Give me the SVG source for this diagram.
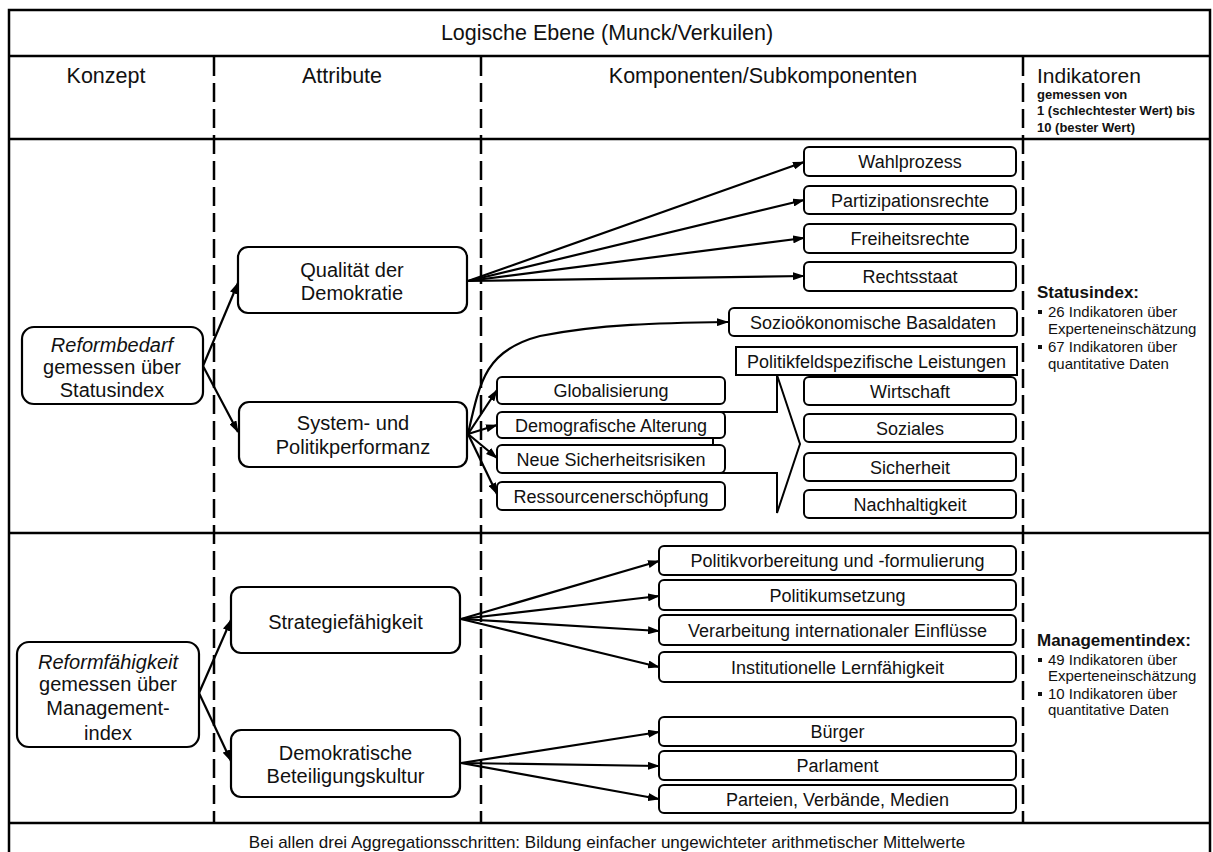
<svg xmlns="http://www.w3.org/2000/svg" width="1213" height="852" viewBox="0 0 1213 852">
<style>
text{font-family:"Liberation Sans",Arial,sans-serif;fill:#111}
.frame{fill:none;stroke:#000;stroke-width:2.5}
.hl{stroke:#000;stroke-width:2.5}
.dash{stroke:#000;stroke-width:2.5;stroke-dasharray:19 7;fill:none}
.box{fill:#fff;stroke:#000;stroke-width:2}
.big{fill:#fff;stroke:#000;stroke-width:2.2}
.c{stroke:#000;stroke-width:2.2;fill:none;marker-end:url(#ah)}
.t18{font-size:18px;text-anchor:middle}
.t20{font-size:20px;text-anchor:middle}
.hd{font-size:21.5px;text-anchor:middle}
.side{font-size:15px}
.sideh{font-size:17px;font-weight:bold}
.ind{font-size:13px;font-weight:bold}
</style>
<defs>
<marker id="ah" markerUnits="userSpaceOnUse" markerWidth="12" markerHeight="8" refX="11" refY="4" orient="auto"><path d="M0,0 L12,4 L0,8 z" fill="#000"/></marker>
</defs>
<rect width="1213" height="852" fill="#fff"/>

<g id="frame">
<rect class="frame" x="9" y="10" width="1201" height="880"/>
<line class="hl" x1="9" y1="56" x2="1210" y2="56"/>
<line class="hl" x1="9" y1="139" x2="1210" y2="139"/>
<line class="hl" x1="9" y1="533" x2="1210" y2="533"/>
<line class="hl" x1="9" y1="823" x2="1210" y2="823"/>
<line class="dash" x1="214" y1="57" x2="214" y2="822"/>
<line class="dash" x1="481" y1="57" x2="481" y2="822"/>
<line class="dash" x1="1023" y1="57" x2="1023" y2="822"/>
</g>

<g id="header">
<text class="hd" x="607" y="40">Logische Ebene (Munck/Verkuilen)</text>
<text class="hd" x="106" y="82.5">Konzept</text>
<text class="hd" x="342" y="82.5">Attribute</text>
<text class="hd" x="763" y="82.5">Komponenten/Subkomponenten</text>
<text x="1037" y="83" style="font-size:21px">Indikatoren</text>
<text class="ind" x="1037" y="98.5">gemessen von</text>
<text class="ind" x="1037" y="114.5">1 (schlechtester Wert) bis</text>
<text class="ind" x="1037" y="131.5">10 (bester Wert)</text>
</g>

<g id="block-arrow">
<polygon class="box" points="713,412 777,412 777,375 800,444 777,513 777,473 713,473"/>
</g>

<g id="connectors">
<line class="c" x1="203" y1="366" x2="238" y2="283"/>
<line class="c" x1="203" y1="366" x2="238" y2="432"/>
<line class="c" x1="468" y1="281" x2="804" y2="162"/>
<line class="c" x1="468" y1="281" x2="804" y2="200"/>
<line class="c" x1="468" y1="281" x2="804" y2="238"/>
<line class="c" x1="468" y1="281" x2="804" y2="276"/>
<line class="c" x1="468" y1="434" x2="497" y2="390"/>
<line class="c" x1="468" y1="434" x2="497" y2="425"/>
<line class="c" x1="468" y1="434" x2="497" y2="458"/>
<line class="c" x1="468" y1="434" x2="497" y2="494"/>
<path class="c" d="M468,434 C480,380 486,350 540,336 C600,324 660,323 728,322"/>
<line class="c" x1="199" y1="693" x2="231" y2="620"/>
<line class="c" x1="199" y1="693" x2="231" y2="761"/>
<line class="c" x1="461" y1="619" x2="659" y2="561"/>
<line class="c" x1="461" y1="619" x2="659" y2="596"/>
<line class="c" x1="461" y1="619" x2="659" y2="631"/>
<line class="c" x1="461" y1="619" x2="659" y2="667"/>
<line class="c" x1="461" y1="763" x2="659" y2="732"/>
<line class="c" x1="461" y1="763" x2="659" y2="766"/>
<line class="c" x1="461" y1="763" x2="659" y2="799"/>
</g>

<g id="reformbedarf"><rect class="big" x="22" y="327" width="181" height="77" rx="12"/>
<text class="t20" x="112" y="352" font-style="italic">Reformbedarf</text>
<text class="t20" x="112" y="374">gemessen über</text>
<text class="t20" x="112" y="397">Statusindex</text></g>

<g id="qualitaet"><rect class="big" x="238" y="247" width="229" height="66" rx="10"/>
<text class="t20" x="352" y="277">Qualität der</text>
<text class="t20" x="352" y="300">Demokratie</text></g>

<g id="system"><rect class="big" x="239" y="402" width="228" height="65" rx="10"/>
<text class="t20" x="353" y="430">System- und</text>
<text class="t20" x="353" y="454">Politikperformanz</text></g>

<g id="wahlprozess"><rect class="box" x="804" y="147" width="212" height="29" rx="5"/><text class="t18" x="910" y="168">Wahlprozess</text></g>
<g id="partizipation"><rect class="box" x="804" y="186" width="212" height="28" rx="5"/><text class="t18" x="910" y="206.5">Partizipationsrechte</text></g>
<g id="freiheit"><rect class="box" x="804" y="224" width="212" height="29" rx="5"/><text class="t18" x="910" y="245">Freiheitsrechte</text></g>
<g id="rechtsstaat"><rect class="box" x="804" y="262" width="212" height="29" rx="5"/><text class="t18" x="910" y="283">Rechtsstaat</text></g>
<g id="sozio"><rect class="box" x="729" y="308" width="288" height="28" rx="5"/><text class="t18" x="873" y="328.5">Sozioökonomische Basaldaten</text></g>
<g id="politikfeld"><rect class="box" x="736" y="347" width="281" height="28"/><text class="t18" x="876.5" y="367.5">Politikfeldspezifische Leistungen</text></g>
<g id="wirtschaft"><rect class="box" x="804" y="377" width="212" height="28" rx="5"/><text class="t18" x="910" y="397.5">Wirtschaft</text></g>
<g id="soziales"><rect class="box" x="804" y="414" width="212" height="28" rx="5"/><text class="t18" x="910" y="434.5">Soziales</text></g>
<g id="sicherheit"><rect class="box" x="804" y="453" width="212" height="28" rx="5"/><text class="t18" x="910" y="473.5">Sicherheit</text></g>
<g id="nachhaltigkeit"><rect class="box" x="804" y="490" width="212" height="28" rx="5"/><text class="t18" x="910" y="510.5">Nachhaltigkeit</text></g>
<g id="globalisierung"><rect class="box" x="497" y="377" width="228" height="27" rx="5"/><text class="t18" x="611" y="397">Globalisierung</text></g>
<g id="demografie"><rect class="box" x="497" y="412" width="228" height="26" rx="5"/><text class="t18" x="611" y="431.5">Demografische Alterung</text></g>
<g id="risiken"><rect class="box" x="497" y="445" width="228" height="28" rx="5"/><text class="t18" x="611" y="465.5">Neue Sicherheitsrisiken</text></g>
<g id="ressourcen"><rect class="box" x="497" y="482" width="228" height="28" rx="5"/><text class="t18" x="611" y="502.5">Ressourcenerschöpfung</text></g>

<g id="statusindex">
<text class="sideh" x="1037" y="298">Statusindex:</text>
<rect x="1038" y="310" width="4" height="4" fill="#111"/>
<text class="side" x="1048" y="317">26 Indikatoren über</text>
<text class="side" x="1048" y="334">Experteneinschätzung</text>
<rect x="1038" y="345" width="4" height="4" fill="#111"/>
<text class="side" x="1048" y="352">67 Indikatoren über</text>
<text class="side" x="1048" y="369">quantitative Daten</text>
</g>

<g id="reformfaehigkeit"><rect class="big" x="17" y="642" width="182" height="105" rx="12"/>
<text class="t20" x="108" y="669" font-style="italic">Reformfähigkeit</text>
<text class="t20" x="108" y="691">gemessen über</text>
<text class="t20" x="108" y="715">Management-</text>
<text class="t20" x="108" y="740">index</text></g>

<g id="strategie"><rect class="big" x="231" y="587" width="229" height="66" rx="10"/>
<text class="t20" x="345.5" y="629">Strategiefähigkeit</text></g>

<g id="beteiligung"><rect class="big" x="231" y="730" width="229" height="67" rx="10"/>
<text class="t20" x="345.5" y="760">Demokratische</text>
<text class="t20" x="345.5" y="783">Beteiligungskultur</text></g>

<g id="politikvorbereitung"><rect class="box" x="659" y="546" width="357" height="29" rx="5"/><text class="t18" x="837.5" y="567">Politikvorbereitung und -formulierung</text></g>
<g id="politikumsetzung"><rect class="box" x="659" y="580" width="357" height="30" rx="5"/><text class="t18" x="837.5" y="601.5">Politikumsetzung</text></g>
<g id="verarbeitung"><rect class="box" x="659" y="615" width="357" height="30" rx="5"/><text class="t18" x="837.5" y="636.5">Verarbeitung internationaler Einflüsse</text></g>
<g id="lernfaehigkeit"><rect class="box" x="659" y="652" width="357" height="30" rx="5"/><text class="t18" x="837.5" y="673.5">Institutionelle Lernfähigkeit</text></g>
<g id="buerger"><rect class="box" x="659" y="717" width="357" height="29" rx="5"/><text class="t18" x="837.5" y="738">Bürger</text></g>
<g id="parlament"><rect class="box" x="659" y="751" width="357" height="29" rx="5"/><text class="t18" x="837.5" y="772">Parlament</text></g>
<g id="parteien"><rect class="box" x="659" y="785" width="357" height="28" rx="5"/><text class="t18" x="837.5" y="805.5">Parteien, Verbände, Medien</text></g>

<g id="managementindex">
<text class="sideh" x="1037" y="646">Managementindex:</text>
<rect x="1038" y="658" width="4" height="4" fill="#111"/>
<text class="side" x="1048" y="665">49 Indikatoren über</text>
<text class="side" x="1048" y="681">Experteneinschätzung</text>
<rect x="1038" y="692" width="4" height="4" fill="#111"/>
<text class="side" x="1048" y="699">10 Indikatoren über</text>
<text class="side" x="1048" y="715">quantitative Daten</text>
</g>

<g id="footer">
<text x="607" y="848" style="font-size:17px;text-anchor:middle">Bei allen drei Aggregationsschritten: Bildung einfacher ungewichteter arithmetischer Mittelwerte</text>
</g>
</svg>
